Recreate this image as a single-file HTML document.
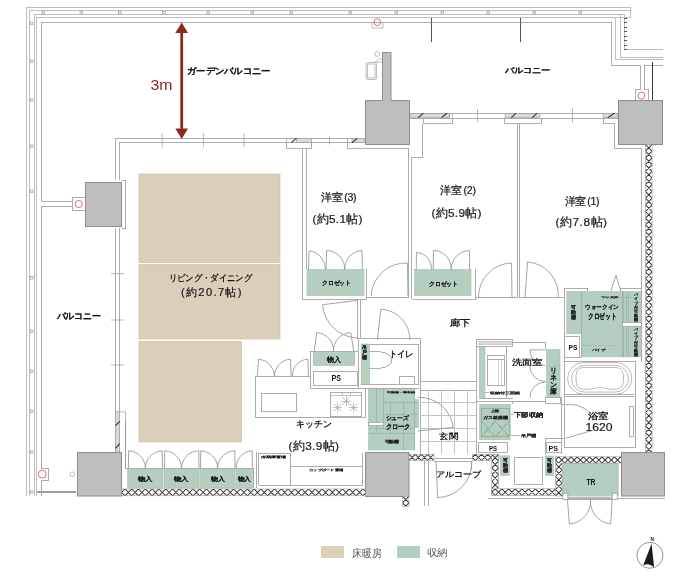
<!DOCTYPE html>
<html><head><meta charset="utf-8">
<style>
html,body{margin:0;padding:0;background:#fff;width:680px;height:579px;overflow:hidden}
svg{display:block;position:absolute;left:0;top:0;will-change:transform}
text{font-family:"Liberation Sans",sans-serif;fill:#222}
</style></head><body>
<svg width="680" height="579" viewBox="0 0 680 579">
<defs>
<pattern id="hx" width="7" height="7" patternUnits="userSpaceOnUse">
<path d="M0,0 L7,7 M7,0 L0,7" stroke="#444" stroke-width="0.9" fill="none"/>
</pattern>
</defs>
<rect width="680" height="579" fill="#fff"/>
<!-- beige -->
<g fill="#dccfba" stroke="#cdbda3" stroke-width="0.7">
<rect x="139" y="174" width="141" height="88.5"/>
<rect x="139" y="264.5" width="141" height="74.5"/>
<rect x="139" y="341.5" width="102.5" height="100.5"/>
</g>
<!-- pillars -->
<g fill="#bebebe" stroke="#8e8e8e" stroke-width="1">
<rect x="85.5" y="182.5" width="36" height="44"/>
<path d="M382.5,52.5 H391 V100.5 H409.5 V144.5 H365.5 V100.5 H382.5 Z"/>
<rect x="618.5" y="100.5" width="44" height="44"/>
<rect x="77.5" y="452.5" width="44" height="43.5"/>
<rect x="365.5" y="452.5" width="43.5" height="44"/>
<rect x="621.5" y="452.5" width="43" height="43.5"/>
</g>
<!-- green -->
<g fill="#b4cfbf" stroke="#a3bcae" stroke-width="0.6">
<rect x="307" y="269.5" width="57" height="26"/>
<rect x="414.5" y="269.5" width="56.5" height="26"/>
<rect x="566.8" y="291.5" width="15" height="42.3"/>
<rect x="581.8" y="291.5" width="40.5" height="65.3"/>
<rect x="622.3" y="291.5" width="19.5" height="31"/>
<rect x="622.3" y="326.2" width="19.5" height="30.6"/>
<rect x="313.2" y="352.6" width="41.5" height="13"/>
<rect x="361.2" y="344" width="8.3" height="40.7"/>
<rect x="368.6" y="388.2" width="45.9" height="61.7"/><rect x="414.5" y="399.7" width="3.9" height="27.8"/>
<rect x="546.5" y="349.4" width="13.5" height="47.8"/>
<rect x="479.4" y="347.2" width="5.5" height="51"/>
<rect x="479.7" y="404.4" width="30.5" height="35.3"/>
<rect x="500.7" y="455.8" width="8.7" height="19.5"/>
<rect x="545.4" y="456" width="8" height="19.3"/>
<rect x="561.6" y="463" width="56.6" height="32.5"/>
<rect x="127.7" y="468.7" width="35.3" height="19.4"/>
<rect x="164.1" y="468.7" width="34.9" height="19.4"/>
<rect x="199.9" y="468.7" width="35.3" height="19.4"/>
<rect x="236.3" y="468.7" width="16.1" height="19.4"/>
</g>
<g><clipPath id="c1215_4890"><rect x="121.5" y="489" width="243.90" height="6.80"/></clipPath><rect x="121.5" y="489" width="243.90" height="6.80" fill="#fff"/><path clip-path="url(#c1215_4890)" d="M111.30,489.00L118.10,495.80M111.30,495.80L118.10,489.00M118.10,489.00L124.90,495.80M118.10,495.80L124.90,489.00M124.90,489.00L131.70,495.80M124.90,495.80L131.70,489.00M131.70,489.00L138.50,495.80M131.70,495.80L138.50,489.00M138.50,489.00L145.30,495.80M138.50,495.80L145.30,489.00M145.30,489.00L152.10,495.80M145.30,495.80L152.10,489.00M152.10,489.00L158.90,495.80M152.10,495.80L158.90,489.00M158.90,489.00L165.70,495.80M158.90,495.80L165.70,489.00M165.70,489.00L172.50,495.80M165.70,495.80L172.50,489.00M172.50,489.00L179.30,495.80M172.50,495.80L179.30,489.00M179.30,489.00L186.10,495.80M179.30,495.80L186.10,489.00M186.10,489.00L192.90,495.80M186.10,495.80L192.90,489.00M192.90,489.00L199.70,495.80M192.90,495.80L199.70,489.00M199.70,489.00L206.50,495.80M199.70,495.80L206.50,489.00M206.50,489.00L213.30,495.80M206.50,495.80L213.30,489.00M213.30,489.00L220.10,495.80M213.30,495.80L220.10,489.00M220.10,489.00L226.90,495.80M220.10,495.80L226.90,489.00M226.90,489.00L233.70,495.80M226.90,495.80L233.70,489.00M233.70,489.00L240.50,495.80M233.70,495.80L240.50,489.00M240.50,489.00L247.30,495.80M240.50,495.80L247.30,489.00M247.30,489.00L254.10,495.80M247.30,495.80L254.10,489.00M254.10,489.00L260.90,495.80M254.10,495.80L260.90,489.00M260.90,489.00L267.70,495.80M260.90,495.80L267.70,489.00M267.70,489.00L274.50,495.80M267.70,495.80L274.50,489.00M274.50,489.00L281.30,495.80M274.50,495.80L281.30,489.00M281.30,489.00L288.10,495.80M281.30,495.80L288.10,489.00M288.10,489.00L294.90,495.80M288.10,495.80L294.90,489.00M294.90,489.00L301.70,495.80M294.90,495.80L301.70,489.00M301.70,489.00L308.50,495.80M301.70,495.80L308.50,489.00M308.50,489.00L315.30,495.80M308.50,495.80L315.30,489.00M315.30,489.00L322.10,495.80M315.30,495.80L322.10,489.00M322.10,489.00L328.90,495.80M322.10,495.80L328.90,489.00M328.90,489.00L335.70,495.80M328.90,495.80L335.70,489.00M335.70,489.00L342.50,495.80M335.70,495.80L342.50,489.00M342.50,489.00L349.30,495.80M342.50,495.80L349.30,489.00M349.30,489.00L356.10,495.80M349.30,495.80L356.10,489.00M356.10,489.00L362.90,495.80M356.10,495.80L362.90,489.00M362.90,489.00L369.70,495.80M362.90,495.80L369.70,489.00M369.70,489.00L376.50,495.80M369.70,495.80L376.50,489.00M376.50,489.00L383.30,495.80M376.50,495.80L383.30,489.00" stroke="#383838" stroke-width="1.05" fill="none"/><rect x="121.5" y="489" width="243.90" height="6.80" fill="none" stroke="#888" stroke-width="0.5"/><clipPath id="c4025_4963"><rect x="402.5" y="496.3" width="6.50" height="10.20"/></clipPath><rect x="402.5" y="496.3" width="6.50" height="10.20" fill="#fff"/><path clip-path="url(#c4025_4963)" d="M402.50,483.30L409.00,489.80M409.00,483.30L402.50,489.80M402.50,489.80L409.00,496.30M409.00,489.80L402.50,496.30M402.50,496.30L409.00,502.80M409.00,496.30L402.50,502.80M402.50,502.80L409.00,509.30M409.00,502.80L402.50,509.30M402.50,509.30L409.00,515.80M409.00,509.30L402.50,515.80M402.50,515.80L409.00,522.30M409.00,515.80L402.50,522.30" stroke="#383838" stroke-width="1.05" fill="none"/><rect x="402.5" y="496.3" width="6.50" height="10.20" fill="none" stroke="#888" stroke-width="0.5"/><clipPath id="c4090_4543"><rect x="409" y="454.3" width="25.00" height="6.20"/></clipPath><rect x="409" y="454.3" width="25.00" height="6.20" fill="#fff"/><path clip-path="url(#c4090_4543)" d="M396.60,454.30L402.80,460.50M396.60,460.50L402.80,454.30M402.80,454.30L409.00,460.50M402.80,460.50L409.00,454.30M409.00,454.30L415.20,460.50M409.00,460.50L415.20,454.30M415.20,454.30L421.40,460.50M415.20,460.50L421.40,454.30M421.40,454.30L427.60,460.50M421.40,460.50L427.60,454.30M427.60,454.30L433.80,460.50M427.60,460.50L433.80,454.30M433.80,454.30L440.00,460.50M433.80,460.50L440.00,454.30M440.00,454.30L446.20,460.50M440.00,460.50L446.20,454.30M446.20,454.30L452.40,460.50M446.20,460.50L452.40,454.30" stroke="#383838" stroke-width="1.05" fill="none"/><rect x="409" y="454.3" width="25.00" height="6.20" fill="none" stroke="#888" stroke-width="0.5"/><clipPath id="c4722_4543"><rect x="472.2" y="454.3" width="26.80" height="6.20"/></clipPath><rect x="472.2" y="454.3" width="26.80" height="6.20" fill="#fff"/><path clip-path="url(#c4722_4543)" d="M462.90,454.30L469.10,460.50M462.90,460.50L469.10,454.30M469.10,454.30L475.30,460.50M469.10,460.50L475.30,454.30M475.30,454.30L481.50,460.50M475.30,460.50L481.50,454.30M481.50,454.30L487.70,460.50M481.50,460.50L487.70,454.30M487.70,454.30L493.90,460.50M487.70,460.50L493.90,454.30M493.90,454.30L500.10,460.50M493.90,460.50L500.10,454.30M500.10,454.30L506.30,460.50M500.10,460.50L506.30,454.30M506.30,454.30L512.50,460.50M506.30,460.50L512.50,454.30M512.50,454.30L518.70,460.50M512.50,460.50L518.70,454.30" stroke="#383838" stroke-width="1.05" fill="none"/><rect x="472.2" y="454.3" width="26.80" height="6.20" fill="none" stroke="#888" stroke-width="0.5"/><clipPath id="c4918_4543"><rect x="491.8" y="454.3" width="6.80" height="41.20"/></clipPath><rect x="491.8" y="454.3" width="6.80" height="41.20" fill="#fff"/><path clip-path="url(#c4918_4543)" d="M491.80,440.70L498.60,447.50M498.60,440.70L491.80,447.50M491.80,447.50L498.60,454.30M498.60,447.50L491.80,454.30M491.80,454.30L498.60,461.10M498.60,454.30L491.80,461.10M491.80,461.10L498.60,467.90M498.60,461.10L491.80,467.90M491.80,467.90L498.60,474.70M498.60,467.90L491.80,474.70M491.80,474.70L498.60,481.50M498.60,474.70L491.80,481.50M491.80,481.50L498.60,488.30M498.60,481.50L491.80,488.30M491.80,488.30L498.60,495.10M498.60,488.30L491.80,495.10M491.80,495.10L498.60,501.90M498.60,495.10L491.80,501.90M491.80,501.90L498.60,508.70M498.60,501.90L491.80,508.70M491.80,508.70L498.60,515.50M498.60,508.70L491.80,515.50" stroke="#383838" stroke-width="1.05" fill="none"/><rect x="491.8" y="454.3" width="6.80" height="41.20" fill="none" stroke="#888" stroke-width="0.5"/><clipPath id="c4918_4888"><rect x="491.8" y="488.8" width="70.00" height="6.70"/></clipPath><rect x="491.8" y="488.8" width="70.00" height="6.70" fill="#fff"/><path clip-path="url(#c4918_4888)" d="M481.75,488.80L488.45,495.50M481.75,495.50L488.45,488.80M488.45,488.80L495.15,495.50M488.45,495.50L495.15,488.80M495.15,488.80L501.85,495.50M495.15,495.50L501.85,488.80M501.85,488.80L508.55,495.50M501.85,495.50L508.55,488.80M508.55,488.80L515.25,495.50M508.55,495.50L515.25,488.80M515.25,488.80L521.95,495.50M515.25,495.50L521.95,488.80M521.95,488.80L528.65,495.50M521.95,495.50L528.65,488.80M528.65,488.80L535.35,495.50M528.65,495.50L535.35,488.80M535.35,488.80L542.05,495.50M535.35,495.50L542.05,488.80M542.05,488.80L548.75,495.50M542.05,495.50L548.75,488.80M548.75,488.80L555.45,495.50M548.75,495.50L555.45,488.80M555.45,488.80L562.15,495.50M555.45,495.50L562.15,488.80M562.15,488.80L568.85,495.50M562.15,495.50L568.85,488.80M568.85,488.80L575.55,495.50M568.85,495.50L575.55,488.80M575.55,488.80L582.25,495.50M575.55,495.50L582.25,488.80" stroke="#383838" stroke-width="1.05" fill="none"/><rect x="491.8" y="488.8" width="70.00" height="6.70" fill="none" stroke="#888" stroke-width="0.5"/><clipPath id="c5555_4570"><rect x="555.5" y="457" width="6.50" height="39.00"/></clipPath><rect x="555.5" y="457" width="6.50" height="39.00" fill="#fff"/><path clip-path="url(#c5555_4570)" d="M555.50,444.00L562.00,450.50M562.00,444.00L555.50,450.50M555.50,450.50L562.00,457.00M562.00,450.50L555.50,457.00M555.50,457.00L562.00,463.50M562.00,457.00L555.50,463.50M555.50,463.50L562.00,470.00M562.00,463.50L555.50,470.00M555.50,470.00L562.00,476.50M562.00,470.00L555.50,476.50M555.50,476.50L562.00,483.00M562.00,476.50L555.50,483.00M555.50,483.00L562.00,489.50M562.00,483.00L555.50,489.50M555.50,489.50L562.00,496.00M562.00,489.50L555.50,496.00M555.50,496.00L562.00,502.50M562.00,496.00L555.50,502.50M555.50,502.50L562.00,509.00M562.00,502.50L555.50,509.00M555.50,509.00L562.00,515.50M562.00,509.00L555.50,515.50" stroke="#383838" stroke-width="1.05" fill="none"/><rect x="555.5" y="457" width="6.50" height="39.00" fill="none" stroke="#888" stroke-width="0.5"/><clipPath id="c5555_4568"><rect x="555.5" y="456.8" width="65.80" height="6.20"/></clipPath><rect x="555.5" y="456.8" width="65.80" height="6.20" fill="#fff"/><path clip-path="url(#c5555_4568)" d="M546.20,456.80L552.40,463.00M546.20,463.00L552.40,456.80M552.40,456.80L558.60,463.00M552.40,463.00L558.60,456.80M558.60,456.80L564.80,463.00M558.60,463.00L564.80,456.80M564.80,456.80L571.00,463.00M564.80,463.00L571.00,456.80M571.00,456.80L577.20,463.00M571.00,463.00L577.20,456.80M577.20,456.80L583.40,463.00M577.20,463.00L583.40,456.80M583.40,456.80L589.60,463.00M583.40,463.00L589.60,456.80M589.60,456.80L595.80,463.00M589.60,463.00L595.80,456.80M595.80,456.80L602.00,463.00M595.80,463.00L602.00,456.80M602.00,456.80L608.20,463.00M602.00,463.00L608.20,456.80M608.20,456.80L614.40,463.00M608.20,463.00L614.40,456.80M614.40,456.80L620.60,463.00M614.40,463.00L620.60,456.80M620.60,456.80L626.80,463.00M620.60,463.00L626.80,456.80M626.80,456.80L633.00,463.00M626.80,463.00L633.00,456.80M633.00,456.80L639.20,463.00M633.00,463.00L639.20,456.80" stroke="#383838" stroke-width="1.05" fill="none"/><rect x="555.5" y="456.8" width="65.80" height="6.20" fill="none" stroke="#888" stroke-width="0.5"/><clipPath id="c6454_1445"><rect x="645.4" y="144.5" width="6.70" height="307.60"/></clipPath><rect x="645.4" y="144.5" width="6.70" height="307.60" fill="#fff"/><path clip-path="url(#c6454_1445)" d="M645.40,131.10L652.10,137.80M652.10,131.10L645.40,137.80M645.40,137.80L652.10,144.50M652.10,137.80L645.40,144.50M645.40,144.50L652.10,151.20M652.10,144.50L645.40,151.20M645.40,151.20L652.10,157.90M652.10,151.20L645.40,157.90M645.40,157.90L652.10,164.60M652.10,157.90L645.40,164.60M645.40,164.60L652.10,171.30M652.10,164.60L645.40,171.30M645.40,171.30L652.10,178.00M652.10,171.30L645.40,178.00M645.40,178.00L652.10,184.70M652.10,178.00L645.40,184.70M645.40,184.70L652.10,191.40M652.10,184.70L645.40,191.40M645.40,191.40L652.10,198.10M652.10,191.40L645.40,198.10M645.40,198.10L652.10,204.80M652.10,198.10L645.40,204.80M645.40,204.80L652.10,211.50M652.10,204.80L645.40,211.50M645.40,211.50L652.10,218.20M652.10,211.50L645.40,218.20M645.40,218.20L652.10,224.90M652.10,218.20L645.40,224.90M645.40,224.90L652.10,231.60M652.10,224.90L645.40,231.60M645.40,231.60L652.10,238.30M652.10,231.60L645.40,238.30M645.40,238.30L652.10,245.00M652.10,238.30L645.40,245.00M645.40,245.00L652.10,251.70M652.10,245.00L645.40,251.70M645.40,251.70L652.10,258.40M652.10,251.70L645.40,258.40M645.40,258.40L652.10,265.10M652.10,258.40L645.40,265.10M645.40,265.10L652.10,271.80M652.10,265.10L645.40,271.80M645.40,271.80L652.10,278.50M652.10,271.80L645.40,278.50M645.40,278.50L652.10,285.20M652.10,278.50L645.40,285.20M645.40,285.20L652.10,291.90M652.10,285.20L645.40,291.90M645.40,291.90L652.10,298.60M652.10,291.90L645.40,298.60M645.40,298.60L652.10,305.30M652.10,298.60L645.40,305.30M645.40,305.30L652.10,312.00M652.10,305.30L645.40,312.00M645.40,312.00L652.10,318.70M652.10,312.00L645.40,318.70M645.40,318.70L652.10,325.40M652.10,318.70L645.40,325.40M645.40,325.40L652.10,332.10M652.10,325.40L645.40,332.10M645.40,332.10L652.10,338.80M652.10,332.10L645.40,338.80M645.40,338.80L652.10,345.50M652.10,338.80L645.40,345.50M645.40,345.50L652.10,352.20M652.10,345.50L645.40,352.20M645.40,352.20L652.10,358.90M652.10,352.20L645.40,358.90M645.40,358.90L652.10,365.60M652.10,358.90L645.40,365.60M645.40,365.60L652.10,372.30M652.10,365.60L645.40,372.30M645.40,372.30L652.10,379.00M652.10,372.30L645.40,379.00M645.40,379.00L652.10,385.70M652.10,379.00L645.40,385.70M645.40,385.70L652.10,392.40M652.10,385.70L645.40,392.40M645.40,392.40L652.10,399.10M652.10,392.40L645.40,399.10M645.40,399.10L652.10,405.80M652.10,399.10L645.40,405.80M645.40,405.80L652.10,412.50M652.10,405.80L645.40,412.50M645.40,412.50L652.10,419.20M652.10,412.50L645.40,419.20M645.40,419.20L652.10,425.90M652.10,419.20L645.40,425.90M645.40,425.90L652.10,432.60M652.10,425.90L645.40,432.60M645.40,432.60L652.10,439.30M652.10,432.60L645.40,439.30M645.40,439.30L652.10,446.00M652.10,439.30L645.40,446.00M645.40,446.00L652.10,452.70M652.10,446.00L645.40,452.70M645.40,452.70L652.10,459.40M652.10,452.70L645.40,459.40M645.40,459.40L652.10,466.10M652.10,459.40L645.40,466.10" stroke="#383838" stroke-width="1.05" fill="none"/><rect x="645.4" y="144.5" width="6.70" height="307.60" fill="none" stroke="#888" stroke-width="0.5"/></g>
<!-- structural lines -->
<g fill="none" stroke="#adadad" stroke-width="1" shape-rendering="crispEdges">
<!-- balcony -->
<path d="M26.5,496 V7.5 H630.5 V17.5" stroke="#bdbdbd"/>
<path d="M29.5,496 V10.5 H630.5" stroke="#bdbdbd"/>
<path d="M34,496 V14.5 H624.5 V49.5 H662.5" stroke="#bdbdbd"/>
<path d="M620,14.5 V57.5 H662.5" stroke="#bdbdbd"/>
<path d="M36.5,496 V17.5 H630.5" stroke="#bdbdbd"/>
<path d="M615.5,17.5 V59.5 H662.5" stroke="#bdbdbd"/>
<path d="M41.5,201 V22.5 H611 V65.5 H640 V89.5 H635.5 V100"/>
<path d="M648.5,100 V89.5 H644 V65.5 H662.5"/>
<path d="M72,201 H41.5 M72,206 H41.5 V468 H48.5 V480.5 H41.5 V496"/>
<path d="M72,197 H85 M72,210.5 H85 M72,197 V210.5"/>
<path d="M652.5,62 V100" stroke="#333" stroke-width="1.4"/>
<path d="M520.5,17.5 V42" stroke="#555"/>
<path d="M431,17.5 V42" stroke="#555"/>
<path d="M37,492 H76" stroke="#a39a94" stroke-width="1.8"/>
<!-- living top wall -->
<path d="M115.5,180 V138.5 H365 M119.5,180 V142.5 H365"/>
<path d="M115.5,228 V452 M119.5,228 V452"/>
<path d="M122,180 H125.5 V228.5 H122"/>
<path d="M286.5,138.5 V148.5 H311.5 V138.5"/>
<path d="M347,138.5 V148.5 H408.5 V296.5"/>
<path d="M302.8,148.5 V299 H366.2 V269 M306,148.5 V269"/>
<!-- top right wall -->
<path d="M410,113.5 H618 M410,118 H618"/>
<path d="M423,118 V123.5 H452.5 V118"/>
<path d="M504,118 V123.5 H541.8 V118"/>
<path d="M411.5,299 V157.5 H422.8 V123.5"/>
<path d="M603,118 V123 H614.4 V148.8 H641 V288.2"/>
<path d="M517,123.5 V297.6 M519.4,123.5 V297.6"/>
<!-- closets bottom / corridor -->
<path d="M366.2,297.3 H408.5 M411.5,299 H475.9 V269"/>
<path d="M475.9,297.6 H517 M519.4,297.6 H564"/>
<path d="M564,361.5 V288.2 H587.6 V290.6 M620.6,290.6 V288.2 H641"/>
<!-- kitchen/toilet walls -->
<path d="M357.5,300.3 V338.8 M360.5,300.3 V338.8"/>
<path d="M358,338.8 H420.3 V454 M361.2,344.1 H418.2 V384.7 H361.2"/>
<path d="M358,338.8 V388.2 H418.5"/>
<path d="M310.2,351.2 V388.2 H359.4 M310.2,351.2 H358"/>
<path d="M313.2,371.5 H357.9 V385.6 H313.2 Z"/>
<path d="M255.5,417.7 V376.8 H310.2 M255.5,417.7 H365.6 V388.2 H310.2"/>
<path d="M261.2,393.5 H296.6 V411.3 H261.2 Z"/>
<path d="M330.6,392.4 H361.5 V416 H330.6 Z"/>
<path d="M258.5,485 V453 H290.2 V485 M290.2,466 H362.9 M258.5,485 H362.9 V453 M253.5,468.7 V488 M256.2,452 V488"/>
<path d="M125.5,420 V468.7 H253.5"/>
<g stroke="#9a9a9a" stroke-width="0.6"><path d="M331,395 H361 M342,392.5 V395 M350,392.5 V395"/>
<path d="M342,397 L350,405 M350,397 L342,405 M346,396 V406 M341,401 H351"/>
<path d="M334,404 L341,411 M341,404 L334,411 M337.5,403 V412 M333,407.5 H342"/>
<path d="M350,404 L357,411 M357,404 L350,411 M353.5,403 V412 M349,407.5 H358"/></g>
<g stroke="#8fae9c" stroke-width="0.6" fill="none" shape-rendering="crispEdges">
<path d="M376.1,388.2 V427.5 M383.6,388.2 V427.5 M390.6,402.1 V427.5 M403.7,402.1 V449.9 M414.3,388.2 V449.9"/>
<path d="M383.6,402.1 H418.4 M383.6,414.8 H418.4 M368.6,428.1 H414.5 M368.6,433.6 H414.5 M376.1,428.1 V433.6 M390.6,428.1 V433.6"/>
</g>
<rect x="368.6" y="422.9" width="15" height="2.5" fill="#fff"/>
<!-- toilet interior -->
<path d="M399.5,376.2 H414.6 V384.4 H399.5 Z"/>
<path d="M369.5,384.7 H418.5"/>
<path d="M369.5,352 C380,350 392,354 392,360 C392,366 380,370 369.5,368.5"/>
<!-- entrance tiles -->
<path d="M419.5,381.5 H476.4 M419.5,390.3 H476.4"/>
<path stroke="#c4c4c4" d="M419.5,402.6 H476.4 M419.5,415.5 H476.4 M419.5,428.6 H476.4 M419.5,441.6 H476.4 M428.5,390.3 V454 M441.5,390.3 V454 M454.6,390.3 V454 M467.9,390.3 V454"/>
<!-- washroom -->
<path d="M476.4,454 V339.1 H512.2 V346.4 H476.4 M512.2,342.4 H545.7 V349.4"/>
<rect x="478.8" y="341" width="32.7" height="3.6" fill="#dcdcdc" stroke="#bbb" stroke-width="0.5"/>
<path d="M479.5,346.6 H506.8 V398.7 M479.5,398.7 H512.5 M476.4,401.5 H512.5 V403.5 M487.1,355.4 H504.2 V385.4 H487.1 Z M487.1,359.5 H504.2"/>
<path d="M498,359.5 V385.4 M501,359.5 V385.4" stroke="#cfcfcf"/>
<path d="M512.5,401.5 H545.6"/>
<path d="M545.6,397.6 H560.6 V403 H545.6 Z"/>
<path stroke="#93b3a1" d="M481.4,408.2 H509 V436.8 H481.4 Z M481.4,436.8 L495.2,421 L509,436.8 M481.4,421 L495.2,436.8 L509,421"/>
<path d="M478.5,442.6 H507.6 V452.7 H478.5 Z"/>
<path d="M546.5,442.6 H561.5 V452.7 H546.5 Z"/>
<path d="M545.4,438.3 V454 M545.4,438.3 H561.7"/>
<path d="M510.8,414.5 H513.5 M510.8,435.7 H519.5 M484.9,392.2 H489.3 M618.5,297.3 H632" stroke="#b5b5b5"/>
<path d="M561.5,397 V454 M564.7,361.5 V447 H635 V361.5 Z"/>
<path d="M564.7,394.9 H634.4 M564.7,396.5 H634.4"/>


<path d="M561,404.7 H564.7 V438 H561 Z M629,406 H633.5 V436.5 H629 Z"/>
<path d="M564.7,357.6 H581.8 V333.8 M564.5,336.5 H579 V356.8"/>
<!-- WIC dividers -->
<path d="M623.3,291.5 V322.4 M626.8,291.5 V322.4 M628.8,291.5 V322.4 M623.3,326.2 V356.8 M626.8,326.2 V356.8 M628.8,326.2 V356.8" stroke="#8fb09e" stroke-width="0.6"/>
<path d="M581.8,291.5 V356.8 M622.3,291.5 V356.8 M622.3,322.4 H641.8 M622.3,326.2 H641.8 M564,288.2 V361.5 M641.8,288.2 V361.5"/>
<path d="M582.6,345.3 H615.3 M621.5,297.3 H627.6" stroke-dasharray="1.5,1"/>
<!-- alcove / bottom -->
<path d="M434,458.7 H472.2 M434,461.7 H472.2 M471.6,461.7 V470"/>
<path d="M424.7,459.5 V506 M428.7,459.5 V506"/>
<path d="M488,498.8 H664.6 M253.5,488 V468.7"/>
<path d="M514,457 H542 V484.7 H514 Z"/>
</g>

<g fill="none" stroke="#a8a8a8" stroke-width="0.8">
<rect x="567.6" y="362.5" width="64.2" height="31.8" rx="15.9"/>
<rect x="571.5" y="365.3" width="57" height="26.8" rx="13.4"/>
<path d="M585,367.5 H614 C621,367.5 623.5,370 623.5,378 C623.5,386.5 621,389.3 614,389.3 C606,389.3 604,387.5 600,387.5 C596,387.5 594,389.3 585,389.3 C578,389.3 576,386.5 576,378 C576,370 578,367.5 585,367.5 Z"/>
</g>
<path d="M546.5,366 H560.2" stroke="#a0b5a8" stroke-width="0.6"/>
<path d="M325.4,269.5 V295.5 M432.6,269.5 V295.5" stroke="#d7c3c3" stroke-width="0.7"/>
<!-- doors -->
<g fill="none" stroke="#9a9a9a" stroke-width="0.9">
<path d="M308.5,269.5 L309,251 A18,18 0 0 1 325.5,269.5"/>
<path d="M326.2,269.5 L326.5,250.5 A18.5,18.5 0 0 1 344.7,269.5"/>
<path d="M362.3,269.5 L362,250.6 A18,18 0 0 0 344.7,269.5"/>
<path d="M416.2,269.5 L416.5,252.4 A16.5,16.5 0 0 1 431.8,269.5"/>
<path d="M433.2,269.5 L433.5,250.5 A18,18 0 0 1 451.2,269.5"/>
<path d="M469.7,269.5 L469.5,250.6 A18.5,18.5 0 0 0 451.2,269.5"/>
<path d="M408,296.5 L407.5,263 A35,35 0 0 0 371,296.5"/>
<path d="M512,297.6 L511.5,263 A34,34 0 0 0 478.5,297.6"/>
<path d="M525,297.6 L527.5,262 A33,33 0 0 1 558.2,297.6"/>
<path d="M611,290.6 L616,275 L620.6,290.6"/>
<path d="M314.1,352 L316.8,332.6 A18,18 0 0 1 333.5,352"/>
<path d="M353.8,352 L350.8,332.6 A18,18 0 0 0 333.5,352"/>
<path d="M257.3,376.8 L258.5,359.3 A17,17 0 0 1 274.4,376.8"/>
<path d="M291.2,376.8 L290.5,359.2 A17,17 0 0 0 274.4,376.8"/>
<path d="M308.5,376.8 L308,359.2 A16,16 0 0 0 292.6,376.8"/>
<path d="M128.4,468.7 L128.6,450.8 A17.5,17.5 0 0 1 145.4,468.7"/>
<path d="M162.4,468.7 L162.2,450.8 A17.5,17.5 0 0 0 145.4,468.7"/>
<path d="M164.5,468.7 L164.7,450.8 A17.5,17.5 0 0 1 181.5,468.7"/>
<path d="M199,468.7 L198.8,450.8 A17.5,17.5 0 0 0 181.5,468.7"/>
<path d="M200.5,468.7 L200.7,450.8 A17.5,17.5 0 0 1 217.6,468.7"/>
<path d="M235,468.7 L234.8,450.8 A17.5,17.5 0 0 0 217.6,468.7"/>
<path d="M252.4,468.7 L252.2,450.8 A16.5,16.5 0 0 0 236.3,468.7"/>
<path d="M377.3,340 L380.9,309.1 A31,31 0 0 1 410,340"/>
<path d="M358,300.3 L322.6,304.7 A36,36 0 0 0 358,338"/>
<path d="M418,397.4 A34,34 0 0 1 453.2,427.4 L418,431"/>
<path d="M436,461.2 L437.6,497.6 A35,35 0 0 0 471.8,461.2"/>
<path d="M545.4,349.9 H529.9 A15.5,15.5 0 0 0 545.4,365.4"/>
<path d="M529.9,366 A15.5,15.5 0 0 0 545.4,381.5"/>
<path d="M529.9,397.6 A15.5,15.5 0 0 1 545.4,382"/>
<path d="M567.4,499.4 L569.4,524.1 A23,23 0 0 0 590.5,499.4"/>
<path d="M612.2,499.4 L610.6,524.1 A23,23 0 0 1 590.5,499.4"/>
<path d="M565.6,404.7 A30,30 0 0 1 588,411 M565.6,438.2 L593,430.3"/>
<path d="M567.9,497.2 H612.2 M567.9,499.4 H612.2"/>
</g>
<g fill="#fff" stroke="#9a9a9a" stroke-width="0.8">
<rect x="563" y="493.2" width="4.9" height="6.2"/>
<rect x="612.2" y="493.2" width="5.1" height="6.2"/>
</g>
<!-- arrow -->
<g fill="#8b2a1c">
<rect x="180.3" y="31" width="2.8" height="99"/>
<path d="M175.3,33 L181.7,22.5 L188,33 Z"/>
<path d="M175.3,128.5 L181.7,139 L188,128.5 Z"/>
</g>
<!-- legend -->
<rect x="321" y="546" width="23" height="12" fill="#dccfba"/>
<rect x="397" y="546" width="23" height="12" fill="#b4cfbf"/>

<!-- compass -->
<circle cx="649.95" cy="555.3" r="13" fill="none" stroke="#888" stroke-width="0.9"/>
<path d="M651.6,543.8 L643.1,565.5 Q648.5,562.5 654.1,567.3 Z" fill="#1a1a1a"/>


<!-- details -->
<g>
<!-- window strips (gray fill + slashes) -->
<g fill="#d9d9d9" stroke="#9a9a9a" stroke-width="0.6">
<rect x="296.5" y="138.4" width="15.3" height="4"/>
<rect x="352" y="138.4" width="13" height="4"/>
<rect x="410" y="113.6" width="39.3" height="4"/>
<rect x="505" y="113.6" width="35" height="4"/>
<rect x="603" y="113.6" width="14.5" height="4"/>
<rect x="115.4" y="411.5" width="4.2" height="40.5"/>
</g>
<g stroke="#333" stroke-width="1.1" fill="none">
<path d="M291.2,142.6 L296.5,138.2 M352.1,142.6 L357.4,138.2"/>
<path d="M418.2,117.6 L423.5,113.2 M441.4,117.6 L447.1,113.2"/>
<path d="M511.3,117.6 L516,113.2 M532.3,117.6 L537,113.2 M607.8,117.6 L614.5,113.2"/>
<path d="M115.5,425.6 L119.7,421.4 M115.5,448.4 L119.7,443.7"/>
</g>
<g stroke="#9a9a9a" stroke-width="0.7" fill="none">
<path d="M119.7,411.9 H125.6 V468.7"/>
<path d="M449.3,113.2 V117.6 M452.4,113.2 V117.6"/>
<path d="M162.1,133.2 V147.4 M203.4,133.2 V147.4 M244.1,133.2 V147.4 M329.5,136.5 V144.5 M477.5,109 V122.2 M572.4,108 V123"/>
<path d="M111,273.7 H124 M111,320 H124 M111,365 H124"/>
</g>
<!-- railing posts -->
<g fill="#fff" stroke="#8a8a8a" stroke-width="0.6">
<rect x="42" y="11.3" width="2.6" height="2.6"/><rect x="80" y="11.3" width="2.6" height="2.6"/>
<rect x="118.5" y="11.3" width="2.6" height="2.6"/><rect x="162.5" y="11.3" width="2.6" height="2.6"/>
<rect x="207" y="11.3" width="2.6" height="2.6"/><rect x="251" y="11.3" width="2.6" height="2.6"/>
<rect x="290" y="11.3" width="2.6" height="2.6"/><rect x="349" y="11.3" width="2.6" height="2.6"/>
<rect x="395" y="11.3" width="2.6" height="2.6"/><rect x="441" y="11.3" width="2.6" height="2.6"/>
<rect x="487" y="11.3" width="2.6" height="2.6"/><rect x="533" y="11.3" width="2.6" height="2.6"/>
<rect x="579" y="11.3" width="2.6" height="2.6"/>
<rect x="30.4" y="22" width="2.6" height="2.6"/><rect x="30.4" y="60" width="2.6" height="2.6"/>
<rect x="30.4" y="99" width="2.6" height="2.6"/><rect x="30.4" y="145" width="2.6" height="2.6"/>
<rect x="30.4" y="190" width="2.6" height="2.6"/>
<rect x="30.4" y="276.5" width="2.6" height="2.6"/><rect x="30.4" y="330" width="2.6" height="2.6"/>
<rect x="30.4" y="370" width="2.6" height="2.6"/><rect x="30.4" y="410" width="2.6" height="2.6"/>
<rect x="30.4" y="451" width="2.6" height="2.6"/><rect x="30.4" y="491" width="2.6" height="2.6"/>
</g>
<g stroke="#444" stroke-width="0.9" shape-rendering="crispEdges">
<path d="M623.5,18 H626.5 M623.5,22.5 H626.5 M623.5,27 H626.5 M623.5,31.5 H626.5 M623.5,36 H626.5 M623.5,40.5 H626.5 M623.5,45 H626.5 M623.5,49 H626.5"/>
</g>
<!-- red circles -->
<g fill="none" stroke="#c8504a" stroke-width="0.8">
<circle cx="78.75" cy="204" r="3.6"/>
<circle cx="42.3" cy="474.2" r="3.9"/>
<circle cx="641.4" cy="95.6" r="3.5"/>
<circle cx="377.3" cy="22.3" r="3.4"/>
</g>
<g fill="none" stroke="#a0a0a0" stroke-width="0.7">
<path d="M372,22.5 V28 H383 V22.5"/>
<circle cx="72.3" cy="474.2" r="2.3"/>
<circle cx="377.3" cy="54" r="2.4"/>
<path d="M375,62 L380,58 L383,62 Z"/>
<rect x="366" y="62.5" width="10.5" height="17" rx="1.5"/>
<path d="M367.5,64 H375 V78 H367.5 Z"/>
</g>
</g>
<text x="187.00" y="73.60" font-size="9.16" textLength="83.50" lengthAdjust="spacingAndGlyphs" style="font-family:'Liberation Sans', sans-serif;font-weight:bold;fill:#1a1a1a;stroke:#1a1a1a;stroke-width:0.05">ガーデンバルコニー</text>
<text x="504.50" y="73.00" font-size="8.05" textLength="46.00" lengthAdjust="spacingAndGlyphs" style="font-family:'Liberation Sans', sans-serif;font-weight:bold;fill:#1a1a1a;stroke:#1a1a1a;stroke-width:0.05">バルコニー</text>
<text x="56.50" y="318.60" font-size="9.29" textLength="44.50" lengthAdjust="spacingAndGlyphs" style="font-family:'Liberation Sans', sans-serif;font-weight:bold;fill:#1a1a1a;stroke:#1a1a1a;stroke-width:0.05">バルコニー</text>
<text x="150.50" y="89.60" font-size="15.04" textLength="22.00" lengthAdjust="spacingAndGlyphs" style="font-family:'Liberation Sans', sans-serif;font-weight:normal;fill:#8b1d12">3m</text>
<text x="321.00" y="200.60" font-size="10.60" textLength="35.50" lengthAdjust="spacing" style="font-family:'Liberation Sans', sans-serif;font-weight:normal;fill:#1a1a1a;stroke:#1a1a1a;stroke-width:0.22">洋室 (3)</text>
<text x="312.50" y="223.00" font-size="11.80" textLength="50.00" lengthAdjust="spacing" style="font-family:'Liberation Sans', sans-serif;font-weight:normal;fill:#1a1a1a;stroke:#1a1a1a;stroke-width:0.22">(約5.1帖)</text>
<text x="440.00" y="194.00" font-size="10.60" textLength="36.00" lengthAdjust="spacing" style="font-family:'Liberation Sans', sans-serif;font-weight:normal;fill:#1a1a1a;stroke:#1a1a1a;stroke-width:0.22">洋室 (2)</text>
<text x="431.50" y="217.40" font-size="11.80" textLength="50.00" lengthAdjust="spacing" style="font-family:'Liberation Sans', sans-serif;font-weight:normal;fill:#1a1a1a;stroke:#1a1a1a;stroke-width:0.22">(約5.9帖)</text>
<text x="564.50" y="204.90" font-size="10.60" textLength="35.00" lengthAdjust="spacing" style="font-family:'Liberation Sans', sans-serif;font-weight:normal;fill:#1a1a1a;stroke:#1a1a1a;stroke-width:0.22">洋室 (1)</text>
<text x="555.50" y="225.90" font-size="11.80" textLength="51.50" lengthAdjust="spacing" style="font-family:'Liberation Sans', sans-serif;font-weight:normal;fill:#1a1a1a;stroke:#1a1a1a;stroke-width:0.22">(約7.8帖)</text>
<text x="168.50" y="281.30" font-size="8.72" textLength="83.50" lengthAdjust="spacingAndGlyphs" style="font-family:'Liberation Sans', sans-serif;font-weight:bold;fill:#1a1a1a">リビング・ダイニング</text>
<text x="181.00" y="296.00" font-size="11.20" textLength="60.50" lengthAdjust="spacing" style="font-family:'Liberation Sans', sans-serif;font-weight:normal;fill:#1a1a1a;stroke:#1a1a1a;stroke-width:0.22">(約20.7帖)</text>
<text x="296.00" y="426.80" font-size="8.82" textLength="35.50" lengthAdjust="spacingAndGlyphs" style="font-family:'Liberation Sans', sans-serif;font-weight:bold;fill:#1a1a1a">キッチン</text>
<text x="288.50" y="450.00" font-size="11.80" textLength="50.50" lengthAdjust="spacing" style="font-family:'Liberation Sans', sans-serif;font-weight:normal;fill:#1a1a1a;stroke:#1a1a1a;stroke-width:0.22">(約3.9帖)</text>
<text x="449.50" y="326.10" font-size="9.02" textLength="20.50" lengthAdjust="spacingAndGlyphs" style="font-family:'Liberation Sans', sans-serif;font-weight:bold;fill:#1a1a1a">廊下</text>
<text x="388.50" y="356.90" font-size="9.20" textLength="25.00" lengthAdjust="spacingAndGlyphs" style="font-family:'Liberation Sans', sans-serif;font-weight:bold;fill:#1a1a1a">トイレ</text>
<text x="511.50" y="364.80" font-size="8.03" textLength="31.00" lengthAdjust="spacingAndGlyphs" style="font-family:'Liberation Sans', sans-serif;font-weight:bold;fill:#1a1a1a">洗面室</text>
<text x="587.50" y="419.30" font-size="9.18" textLength="21.00" lengthAdjust="spacingAndGlyphs" style="font-family:'Liberation Sans', sans-serif;font-weight:bold;fill:#1a1a1a">浴室</text>
<text x="585.50" y="430.50" font-size="11.58" textLength="27.00" lengthAdjust="spacingAndGlyphs" style="font-family:'Liberation Sans', sans-serif;font-weight:normal;fill:#1a1a1a;stroke:#1a1a1a;stroke-width:0.22">1620</text>
<text x="439.00" y="438.70" font-size="7.81" textLength="19.00" lengthAdjust="spacingAndGlyphs" style="font-family:'Liberation Sans', sans-serif;font-weight:bold;fill:#1a1a1a">玄関</text>
<text x="436.00" y="476.50" font-size="8.37" textLength="45.50" lengthAdjust="spacingAndGlyphs" style="font-family:'Liberation Sans', sans-serif;font-weight:bold;fill:#1a1a1a">アルコーブ</text>
<text x="352.00" y="556.50" font-size="10.81" textLength="30.00" lengthAdjust="spacingAndGlyphs" style="font-family:'Liberation Serif', serif;font-weight:normal;fill:#555555">床暖房</text>
<text x="426.50" y="556.00" font-size="10.02" textLength="21.00" lengthAdjust="spacingAndGlyphs" style="font-family:'Liberation Serif', serif;font-weight:normal;fill:#555555">収納</text>
<text x="650.50" y="541.40" font-size="4.67" textLength="3.50" lengthAdjust="spacingAndGlyphs" style="font-family:'Liberation Sans', sans-serif;font-weight:bold;fill:#1a1a1a">N</text>
<text x="322.00" y="285.20" font-size="5.68" textLength="29.00" lengthAdjust="spacingAndGlyphs" style="font-family:'Liberation Sans', sans-serif;font-weight:bold;fill:#1a1a1a;stroke:#1a1a1a;stroke-width:0.08">クロゼット</text>
<text x="429.00" y="285.50" font-size="6.10" textLength="29.00" lengthAdjust="spacingAndGlyphs" style="font-family:'Liberation Sans', sans-serif;font-weight:bold;fill:#1a1a1a;stroke:#1a1a1a;stroke-width:0.08">クロゼット</text>
<text x="137.50" y="481.40" font-size="6.42" textLength="15.00" lengthAdjust="spacingAndGlyphs" style="font-family:'Liberation Sans', sans-serif;font-weight:bold;fill:#1a1a1a;stroke:#1a1a1a;stroke-width:0.08">物入</text>
<text x="173.50" y="481.40" font-size="6.42" textLength="15.00" lengthAdjust="spacingAndGlyphs" style="font-family:'Liberation Sans', sans-serif;font-weight:bold;fill:#1a1a1a;stroke:#1a1a1a;stroke-width:0.08">物入</text>
<text x="210.50" y="481.40" font-size="6.42" textLength="14.00" lengthAdjust="spacingAndGlyphs" style="font-family:'Liberation Sans', sans-serif;font-weight:bold;fill:#1a1a1a;stroke:#1a1a1a;stroke-width:0.08">物入</text>
<text x="237.50" y="481.40" font-size="6.42" textLength="13.50" lengthAdjust="spacingAndGlyphs" style="font-family:'Liberation Sans', sans-serif;font-weight:bold;fill:#1a1a1a;stroke:#1a1a1a;stroke-width:0.08">物入</text>
<text x="326.50" y="361.50" font-size="6.58" textLength="14.00" lengthAdjust="spacingAndGlyphs" style="font-family:'Liberation Sans', sans-serif;font-weight:bold;fill:#1a1a1a;stroke:#1a1a1a;stroke-width:0.08">物入</text>
<text x="331.50" y="380.60" font-size="8.62" textLength="9.50" lengthAdjust="spacingAndGlyphs" style="font-family:'Liberation Sans', sans-serif;font-weight:bold;fill:#111111">PS</text>
<text x="600.50" y="297.70" font-size="2.45" textLength="18.00" lengthAdjust="spacingAndGlyphs" style="font-family:'Liberation Sans', sans-serif;font-weight:bold;fill:#1a1a1a;stroke:#1a1a1a;stroke-width:0.08">下り天井</text>
<text x="585.00" y="309.40" font-size="5.98" textLength="34.00" lengthAdjust="spacingAndGlyphs" style="font-family:'Liberation Sans', sans-serif;font-weight:bold;fill:#1a1a1a;stroke:#1a1a1a;stroke-width:0.08">ウォークイン</text>
<text x="588.00" y="318.50" font-size="8.05" textLength="28.50" lengthAdjust="spacingAndGlyphs" style="font-family:'Liberation Sans', sans-serif;font-weight:bold;fill:#1a1a1a;stroke:#1a1a1a;stroke-width:0.08">クロゼット</text>
<text x="591.50" y="351.10" font-size="3.30" textLength="13.50" lengthAdjust="spacingAndGlyphs" style="font-family:'Liberation Sans', sans-serif;font-weight:bold;fill:#1a1a1a;stroke:#1a1a1a;stroke-width:0.08">パイプ</text>
<text x="568.50" y="349.50" font-size="6.87" textLength="9.00" lengthAdjust="spacingAndGlyphs" style="font-family:'Liberation Sans', sans-serif;font-weight:bold;fill:#111111">PS</text>
<text x="386.50" y="392.80" font-size="2.47" textLength="28.00" lengthAdjust="spacingAndGlyphs" style="font-family:'Liberation Sans', sans-serif;font-weight:bold;fill:#1a1a1a;stroke:#1a1a1a;stroke-width:0.08">可動棚・靴収納</text>
<text x="385.50" y="420.00" font-size="5.54" textLength="23.50" lengthAdjust="spacingAndGlyphs" style="font-family:'Liberation Sans', sans-serif;font-weight:bold;fill:#1a1a1a;stroke:#1a1a1a;stroke-width:0.08">シューズ</text>
<text x="385.50" y="428.50" font-size="6.90" textLength="25.00" lengthAdjust="spacingAndGlyphs" style="font-family:'Liberation Sans', sans-serif;font-weight:bold;fill:#1a1a1a;stroke:#1a1a1a;stroke-width:0.08">クローク</text>
<text x="384.50" y="442.90" font-size="4.19" textLength="14.50" lengthAdjust="spacingAndGlyphs" style="font-family:'Liberation Sans', sans-serif;font-weight:bold;fill:#1a1a1a;stroke:#1a1a1a;stroke-width:0.08">可動棚</text>
<text x="490.00" y="394.30" font-size="2.99" textLength="30.50" lengthAdjust="spacingAndGlyphs" style="font-family:'Liberation Sans', sans-serif;font-weight:bold;fill:#1a1a1a;stroke:#1a1a1a;stroke-width:0.08">収納付三面鏡</text>
<text x="491.00" y="412.40" font-size="3.10" textLength="8.50" lengthAdjust="spacingAndGlyphs" style="font-family:'Liberation Sans', sans-serif;font-weight:bold;fill:#1a1a1a;stroke:#1a1a1a;stroke-width:0.08">上部</text>
<text x="483.00" y="418.80" font-size="4.05" textLength="25.00" lengthAdjust="spacingAndGlyphs" style="font-family:'Liberation Sans', sans-serif;font-weight:bold;fill:#1a1a1a;stroke:#1a1a1a;stroke-width:0.08">ガス乾燥機</text>
<text x="514.00" y="417.20" font-size="6.25" textLength="29.50" lengthAdjust="spacingAndGlyphs" style="font-family:'Liberation Sans', sans-serif;font-weight:bold;fill:#1a1a1a;stroke:#1a1a1a;stroke-width:0.08">下部収納</text>
<text x="520.50" y="437.30" font-size="4.05" textLength="15.50" lengthAdjust="spacingAndGlyphs" style="font-family:'Liberation Sans', sans-serif;font-weight:bold;fill:#1a1a1a;stroke:#1a1a1a;stroke-width:0.08">吊戸棚</text>
<text x="489.00" y="450.70" font-size="6.31" textLength="8.00" lengthAdjust="spacingAndGlyphs" style="font-family:'Liberation Sans', sans-serif;font-weight:bold;fill:#111111">PS</text>
<text x="548.50" y="450.70" font-size="6.31" textLength="9.50" lengthAdjust="spacingAndGlyphs" style="font-family:'Liberation Sans', sans-serif;font-weight:bold;fill:#111111">PS</text>
<text x="586.50" y="484.70" font-size="8.61" textLength="9.00" lengthAdjust="spacingAndGlyphs" style="font-family:'Liberation Sans', sans-serif;font-weight:bold;fill:#111111">TR</text>
<text x="261.00" y="457.50" font-size="2.76" textLength="25.50" lengthAdjust="spacingAndGlyphs" style="font-family:'Liberation Sans', sans-serif;font-weight:bold;fill:#1a1a1a;stroke:#1a1a1a;stroke-width:0.08">冷蔵庫置場</text>
<text x="309.00" y="471.00" font-size="2.76" textLength="34.00" lengthAdjust="spacingAndGlyphs" style="font-family:'Liberation Sans', sans-serif;font-weight:bold;fill:#1a1a1a;stroke:#1a1a1a;stroke-width:0.08">カップボード置場</text>
<text x="364.90" y="348.72" font-size="5.2" text-anchor="middle" style="font-weight:bold;fill:#1a1a1a;stroke:#1a1a1a;stroke-width:0.05">吊</text>
<text x="364.90" y="353.82" font-size="5.2" text-anchor="middle" style="font-weight:bold;fill:#1a1a1a;stroke:#1a1a1a;stroke-width:0.05">戸</text>
<text x="364.90" y="358.92" font-size="5.2" text-anchor="middle" style="font-weight:bold;fill:#1a1a1a;stroke:#1a1a1a;stroke-width:0.05">棚</text>
<text x="553.20" y="373.25" font-size="6.6" text-anchor="middle" style="font-weight:bold;fill:#1a1a1a;stroke:#1a1a1a;stroke-width:0.05">リ</text>
<text x="553.20" y="380.00" font-size="6.6" text-anchor="middle" style="font-weight:bold;fill:#1a1a1a;stroke:#1a1a1a;stroke-width:0.05">ネ</text>
<text x="553.20" y="386.75" font-size="6.6" text-anchor="middle" style="font-weight:bold;fill:#1a1a1a;stroke:#1a1a1a;stroke-width:0.05">ン</text>
<text x="553.20" y="393.50" font-size="6.6" text-anchor="middle" style="font-weight:bold;fill:#1a1a1a;stroke:#1a1a1a;stroke-width:0.05">庫</text>
<text x="573.50" y="309.06" font-size="5.4" text-anchor="middle" style="font-weight:bold;fill:#1a1a1a;stroke:#1a1a1a;stroke-width:0.05">可</text>
<text x="573.50" y="314.09" font-size="5.4" text-anchor="middle" style="font-weight:bold;fill:#1a1a1a;stroke:#1a1a1a;stroke-width:0.05">動</text>
<text x="573.50" y="319.13" font-size="5.4" text-anchor="middle" style="font-weight:bold;fill:#1a1a1a;stroke:#1a1a1a;stroke-width:0.05">棚</text>
<text x="636.30" y="296.30" font-size="4.3" text-anchor="middle" style="font-weight:bold;fill:#1a1a1a;stroke:#1a1a1a;stroke-width:0.05">パ</text>
<text x="636.30" y="300.40" font-size="4.3" text-anchor="middle" style="font-weight:bold;fill:#1a1a1a;stroke:#1a1a1a;stroke-width:0.05">イ</text>
<text x="636.30" y="304.50" font-size="4.3" text-anchor="middle" style="font-weight:bold;fill:#1a1a1a;stroke:#1a1a1a;stroke-width:0.05">プ</text>
<text x="636.30" y="308.60" font-size="4.3" text-anchor="middle" style="font-weight:bold;fill:#1a1a1a;stroke:#1a1a1a;stroke-width:0.05">付</text>
<text x="636.30" y="312.70" font-size="4.3" text-anchor="middle" style="font-weight:bold;fill:#1a1a1a;stroke:#1a1a1a;stroke-width:0.05">可</text>
<text x="636.30" y="316.80" font-size="4.3" text-anchor="middle" style="font-weight:bold;fill:#1a1a1a;stroke:#1a1a1a;stroke-width:0.05">動</text>
<text x="636.30" y="320.90" font-size="4.3" text-anchor="middle" style="font-weight:bold;fill:#1a1a1a;stroke:#1a1a1a;stroke-width:0.05">棚</text>
<text x="636.30" y="331.03" font-size="4.3" text-anchor="middle" style="font-weight:bold;fill:#1a1a1a;stroke:#1a1a1a;stroke-width:0.05">パ</text>
<text x="636.30" y="335.18" font-size="4.3" text-anchor="middle" style="font-weight:bold;fill:#1a1a1a;stroke:#1a1a1a;stroke-width:0.05">イ</text>
<text x="636.30" y="339.34" font-size="4.3" text-anchor="middle" style="font-weight:bold;fill:#1a1a1a;stroke:#1a1a1a;stroke-width:0.05">プ</text>
<text x="636.30" y="343.50" font-size="4.3" text-anchor="middle" style="font-weight:bold;fill:#1a1a1a;stroke:#1a1a1a;stroke-width:0.05">付</text>
<text x="636.30" y="347.66" font-size="4.3" text-anchor="middle" style="font-weight:bold;fill:#1a1a1a;stroke:#1a1a1a;stroke-width:0.05">可</text>
<text x="636.30" y="351.81" font-size="4.3" text-anchor="middle" style="font-weight:bold;fill:#1a1a1a;stroke:#1a1a1a;stroke-width:0.05">動</text>
<text x="636.30" y="355.97" font-size="4.3" text-anchor="middle" style="font-weight:bold;fill:#1a1a1a;stroke:#1a1a1a;stroke-width:0.05">棚</text>
<text x="505.40" y="462.31" font-size="5.2" text-anchor="middle" style="font-weight:bold;fill:#1a1a1a;stroke:#1a1a1a;stroke-width:0.05">可</text>
<text x="505.40" y="467.37" font-size="5.2" text-anchor="middle" style="font-weight:bold;fill:#1a1a1a;stroke:#1a1a1a;stroke-width:0.05">動</text>
<text x="505.40" y="472.44" font-size="5.2" text-anchor="middle" style="font-weight:bold;fill:#1a1a1a;stroke:#1a1a1a;stroke-width:0.05">棚</text>
<text x="549.50" y="462.31" font-size="5.2" text-anchor="middle" style="font-weight:bold;fill:#1a1a1a;stroke:#1a1a1a;stroke-width:0.05">可</text>
<text x="549.50" y="467.37" font-size="5.2" text-anchor="middle" style="font-weight:bold;fill:#1a1a1a;stroke:#1a1a1a;stroke-width:0.05">動</text>
<text x="549.50" y="472.44" font-size="5.2" text-anchor="middle" style="font-weight:bold;fill:#1a1a1a;stroke:#1a1a1a;stroke-width:0.05">棚</text>

</svg>
</body></html>
